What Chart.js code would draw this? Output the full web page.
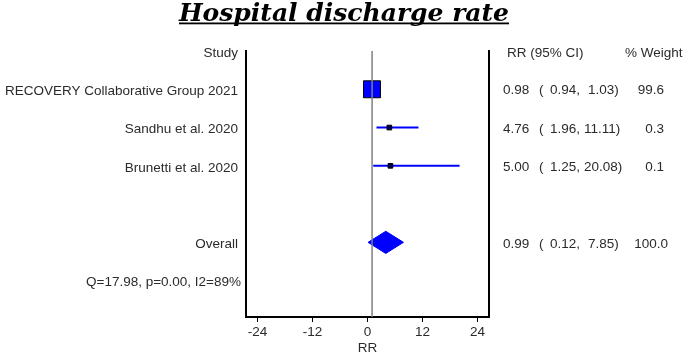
<!DOCTYPE html>
<html>
<head>
<meta charset="utf-8">
<script src="https://cdn.jsdelivr.net/npm/chart.js@4.4.1/dist/chart.umd.min.js"></script>
<style>
  html, body { margin: 0; padding: 0; background: #fff; }
  #wrap { width: 685px; height: 356px; }
</style>
</head>
<body>
<div id="wrap"><canvas id="forestChart"></canvas></div>
<script>

// study level data (risk ratio, 95% CI, weight)
var studies = ['RECOVERY Collaborative Group 2021', 'Sandhu et al. 2020', 'Brunetti et al. 2020'];
var rr = [0.98, 4.76, 5.00];
var lower = [0.94, 1.96, 1.25];
var upper = [1.03, 11.11, 20.08];
var weights = [99.6, 0.3, 0.1];
var studyRows = [1, 2, 3];

// pooled result
var overallLabel = 'Overall';
var overallRR = 0.99;
var overallLower = 0.12;
var overallUpper = 7.85;
var overallWeight = 100.0;
var overallRow = 5;

var heterogeneity = 'Q=17.98, p=0.00, I2=89%';
var heterogeneityRow = 6;

var xTicks = [-24, -12, 0, 12, 24];
var nullValue = 1;

var BLUE = '#0000ff';
var TEXT = '#2b2b2b';
var FONT = '"Liberation Sans", Arial, sans-serif';
var rowsMax = 6.95;
var diamondHalf = 0.29;

var datasets = [];

// vertical line at RR = 1
datasets.push({
    data: [{x: nullValue, y: 0}, {x: nullValue, y: rowsMax}],
    borderColor: '#808080',
    borderWidth: 1.5,
    pointRadius: 0,
    order: 0
});

// confidence interval lines
studies.forEach(function (s, i) {
    datasets.push({
        data: [{x: lower[i], y: studyRows[i]}, {x: upper[i], y: studyRows[i]}],
        borderColor: BLUE,
        borderWidth: 2,
        pointRadius: 0,
        order: 3
    });
});

// squares sized by weight
datasets.push({
    data: studies.map(function (s, i) { return {x: rr[i], y: studyRows[i]}; }),
    showLine: false,
    pointStyle: 'rect',
    pointRadius: function (ctx) {
        var w = weights[ctx.dataIndex];
        return Math.max(3.3, Math.sqrt(w) * 1.2);
    },
    pointBackgroundColor: function (ctx) {
        return weights[ctx.dataIndex] > 10 ? BLUE : '#000050';
    },
    pointBorderColor: '#000000',
    pointBorderWidth: 1,
    order: 2
});

// overall diamond: upper half filled down to lower half
var mid = (overallLower + overallUpper) / 2;
datasets.push({
    data: [{x: overallLower, y: overallRow}, {x: mid, y: overallRow - diamondHalf}, {x: overallUpper, y: overallRow}],
    borderColor: BLUE,
    borderWidth: 1,
    backgroundColor: BLUE,
    pointRadius: 0,
    fill: '+1',
    order: 4
});
datasets.push({
    data: [{x: overallLower, y: overallRow}, {x: mid, y: overallRow + diamondHalf}, {x: overallUpper, y: overallRow}],
    borderColor: BLUE,
    borderWidth: 1,
    pointRadius: 0,
    fill: false,
    order: 5
});

function fmt(v) { return v.toFixed(2); }

var textColumns = {
    id: 'textColumns',
    afterDraw: function (chart) {
        var ctx = chart.ctx;
        var y = chart.scales.y;
        var area = chart.chartArea;
        ctx.save();

        // title
        ctx.font = 'italic bold 25px "DejaVu Serif", serif';
        ctx.fillStyle = '#000';
        ctx.textAlign = 'center';
        ctx.textBaseline = 'alphabetic';
        var tx = 344;
        ctx.fillText('Hospital discharge rate', tx, 21);
        var tw = ctx.measureText('Hospital discharge rate').width;
        ctx.fillRect(tx - tw / 2, 22.5, tw, 1.8);

        ctx.font = '13.5px ' + FONT;
        ctx.fillStyle = TEXT;
        ctx.textBaseline = 'middle';

        var labelX = area.left - 8;
        ctx.textAlign = 'right';
        ctx.fillText('Study', labelX, y.getPixelForValue(0) + 2);
        studies.forEach(function (s, i) {
            ctx.fillText(s, labelX, y.getPixelForValue(studyRows[i]) + 2);
        });
        ctx.fillText(overallLabel, labelX, y.getPixelForValue(overallRow) + 1.5);
        ctx.fillText(heterogeneity, labelX + 3, y.getPixelForValue(heterogeneityRow) + 1.5);

        // right side columns
        ctx.textAlign = 'left';
        ctx.fillText('RR (95% CI)', 507, y.getPixelForValue(0) + 2);
        ctx.fillText('% Weight', 625, y.getPixelForValue(0) + 2);

        function row(est, lo, hi, w, r) {
            var py = y.getPixelForValue(r) + 1.5;
            ctx.textAlign = 'left';
            ctx.fillText(fmt(est), 503, py);
            ctx.fillText('(', 539, py);
            ctx.fillText(fmt(lo) + ',', 550, py);
            var hs = fmt(hi);
            ctx.fillText(hs + ')', 588 - (hs.length - 4) * 4, py);
            ctx.textAlign = 'right';
            ctx.fillText(w.toFixed(1), w >= 100 ? 668 : 664, py);
        }
        studies.forEach(function (s, i) {
            row(rr[i], lower[i], upper[i], weights[i], studyRows[i]);
        });
        row(overallRR, overallLower, overallUpper, overallWeight, overallRow);

        ctx.restore();
    }
};

var frameAxis = {
    type: 'linear',
    reverse: true,
    min: 0,
    max: rowsMax,
    ticks: { display: false },
    grid: { display: false, drawTicks: false },
    border: { display: true, color: '#000', width: 2 },
    afterFit: function (scale) { scale.width = 0; }
};

new Chart(document.getElementById('forestChart'), {
    type: 'line',
    data: { datasets: datasets },
    options: {
        responsive: true,
        maintainAspectRatio: false,
        animation: false,
        layout: { padding: { top: 51, left: 246, right: 196, bottom: 0 } },
        plugins: {
            legend: { display: false },
            tooltip: { enabled: false },
            title: { display: false }
        },
        scales: {
            x: {
                type: 'linear',
                min: -26.5,
                max: 26.5,
                afterBuildTicks: function (scale) {
                    scale.ticks = xTicks.map(function (v) { return {value: v}; });
                },
                ticks: { color: TEXT, font: { family: FONT, size: 13.5 }, padding: 2, maxRotation: 0 },
                grid: { display: true, drawOnChartArea: false, drawTicks: true, tickLength: 5, color: '#000', lineWidth: 1 },
                border: { display: true, color: '#000', width: 2 },
                title: { display: true, text: 'RR', color: TEXT, font: { family: FONT, size: 13.5 }, padding: 0 },
                afterFit: function (scale) { scale.height = 39; }
            },
            y: Object.assign({ position: 'left' }, frameAxis),
            y2: Object.assign({ position: 'right' }, frameAxis)
        }
    },
    plugins: [textColumns]
});
</script>
</body>
</html>
